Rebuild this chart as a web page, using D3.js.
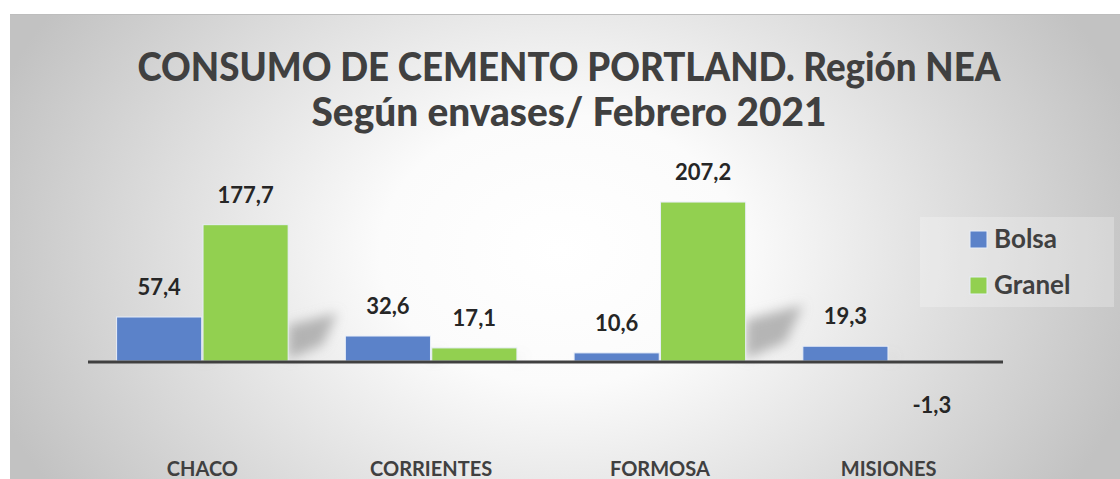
<!DOCTYPE html>
<html>
<head>
<meta charset="utf-8">
<script src="https://cdn.jsdelivr.net/npm/d3@7"></script>
<style>
  html, body { margin: 0; padding: 0; background: #fff; }
  svg { display: block; font-family: Lato, "Open Sans", sans-serif; }
</style>
</head>
<body>
<div id="chart"></div>
<script>
const categories = ["CHACO", "CORRIENTES", "FORMOSA", "MISIONES"];
const seriesNames = ["Bolsa", "Granel"];
const bolsa = [57.4, 32.6, 10.6, 19.3];
const granel = [177.7, 17.1, 207.2, -1.3];
const titleLines = ["CONSUMO DE CEMENTO PORTLAND. Región NEA", "Según envases/ Febrero 2021"];

const colors = { "Bolsa": "#5b82c9", "Granel": "#92d050" };

function drawChart() {
  const width = 1120;
  const height = 479;

  const svg = d3.select("#chart").append("svg")
      .attr("width", width)
      .attr("height", height);

  const defs = svg.append("defs");
  const grad = defs.append("radialGradient")
      .attr("id", "bg")
      .attr("gradientUnits", "userSpaceOnUse")
      .attr("cx", 560).attr("cy", 250).attr("r", 600)
      .attr("gradientTransform", "translate(560,250) scale(1,0.75) translate(-560,-250)");
  grad.append("stop").attr("offset", "0").attr("stop-color", "#ffffff");
  grad.append("stop").attr("offset", "0.3").attr("stop-color", "#fbfbfb");
  grad.append("stop").attr("offset", "1").attr("stop-color", "#c2c2c2");

  defs.append("filter").attr("id", "blur")
      .attr("x", "-50%").attr("y", "-50%").attr("width", "200%").attr("height", "200%")
    .append("feGaussianBlur").attr("stdDeviation", 6);
  defs.append("filter").attr("id", "blur2")
      .attr("x", "-10%").attr("y", "-200%").attr("width", "120%").attr("height", "500%")
    .append("feGaussianBlur").attr("stdDeviation", 2.5);

  // chart area
  svg.append("rect")
      .attr("x", 10).attr("y", 14)
      .attr("width", width - 10).attr("height", height - 14)
      .attr("fill", "url(#bg)");
  svg.append("line")
      .attr("x1", 10).attr("x2", width).attr("y1", 14.5).attr("y2", 14.5)
      .attr("stroke", "#bdbdbd").attr("stroke-width", 1);

  // title
  const titleWidths = [863, 515];
  svg.append("g")
      .attr("fill", "#404040")
      .attr("font-weight", 900)
      .attr("font-size", 40)
      .attr("text-anchor", "middle")
    .selectAll("text")
    .data(titleLines)
    .join("text")
      .attr("x", 569)
      .attr("y", (d, i) => 81 + i * 45)
      .attr("textLength", (d, i) => titleWidths[i])
      .attr("lengthAdjust", "spacingAndGlyphs")
      .text(d => d);

  const x0 = d3.scaleBand()
      .domain(categories)
      .range([88, 1003])
      .paddingInner(0.25)
      .paddingOuter(0.125);

  const x1 = d3.scaleBand()
      .domain(seriesNames)
      .range([0, x0.bandwidth()])
      .paddingInner(0.015);

  const y = d3.scaleLinear()
      .domain([-50, 250])
      .range([399.4, 169.2]);

  const rows = [];
  categories.forEach((c, i) => {
    rows.push({ cat: c, series: "Bolsa", value: bolsa[i] });
    rows.push({ cat: c, series: "Granel", value: granel[i] });
  });

  // perspective shadows behind bars
  svg.append("g")
      .attr("filter", "url(#blur)")
    .selectAll("path")
    .data(rows.filter(d => d.value > 0))
    .join("path")
      .attr("fill", "#9a9a9a")
      .attr("opacity", 0.7)
      .attr("d", d => {
        const xr = x0(d.cat) + x1(d.series) + x1.bandwidth();
        const y0 = y(0);
        const h = y0 - y(d.value);
        const len = Math.min(60, h * 0.36);
        return `M${xr},${y0 - 2} L${xr},${y0 - h * 0.26} L${xr + len},${y0 - h * 0.28 - len * 0.2} L${xr + len * 0.7},${y0 - h * 0.12} Z`;
      });

  // bars
  svg.append("g")
    .selectAll("rect")
    .data(rows)
    .join("rect")
      .attr("x", d => x0(d.cat) + x1(d.series))
      .attr("y", d => y(Math.max(0, d.value)))
      .attr("width", x1.bandwidth())
      .attr("height", d => Math.abs(y(d.value) - y(0)))
      .attr("fill", d => colors[d.series])
      .attr("stroke", "#e8eef8")
      .attr("stroke-width", 1);

  // baseline with soft shadow
  svg.append("line")
      .attr("x1", 88).attr("x2", 1003)
      .attr("y1", y(0) + 4).attr("y2", y(0) + 4)
      .attr("stroke", "#bbbbbb").attr("stroke-width", 3)
      .attr("filter", "url(#blur2)");
  svg.append("line")
      .attr("x1", 88).attr("x2", 1003)
      .attr("y1", y(0) + 1).attr("y2", y(0) + 1)
      .attr("stroke", "#404040").attr("stroke-width", 3);

  // value labels
  svg.append("g")
      .attr("fill", "#262626")
      .attr("font-weight", "bold")
      .attr("font-size", 22)
      .attr("text-anchor", "middle")
    .selectAll("text")
    .data(rows)
    .join("text")
      .attr("x", d => x0(d.cat) + x1(d.series) + x1.bandwidth() / 2)
      .attr("y", d => d.value >= 0 ? y(d.value) - 22 : y(0) + 52)
      .text(d => d3.format(".1f")(d.value).replace(".", ",").replace("−", "-"));

  // category labels
  svg.append("g")
      .attr("fill", "#404040")
      .attr("font-weight", "bold")
      .attr("font-size", 20)
      .attr("text-anchor", "middle")
    .selectAll("text")
    .data(categories)
    .join("text")
      .attr("x", d => x0(d) + x0.bandwidth() / 2)
      .attr("y", 476)
      .text(d => d);

  // legend
  const lg = svg.append("g");
  lg.append("rect")
      .attr("x", 920).attr("y", 217)
      .attr("width", 194).attr("height", 90)
      .attr("fill", "#ffffff").attr("opacity", 0.25);
  const item = lg.selectAll("g")
    .data(seriesNames)
    .join("g")
      .attr("transform", (d, i) => `translate(970, ${231 + i * 46})`);
  item.append("rect")
      .attr("width", 17).attr("height", 17)
      .attr("fill", d => colors[d])
      .attr("stroke", "#e8eef8").attr("stroke-width", 1);
  item.append("text")
      .attr("x", 24).attr("y", 17)
      .attr("fill", "#404040")
      .attr("font-weight", "bold")
      .attr("font-size", 26)
      .text(d => d);

  return svg.node();
}

drawChart();
</script>
</body>
</html>
